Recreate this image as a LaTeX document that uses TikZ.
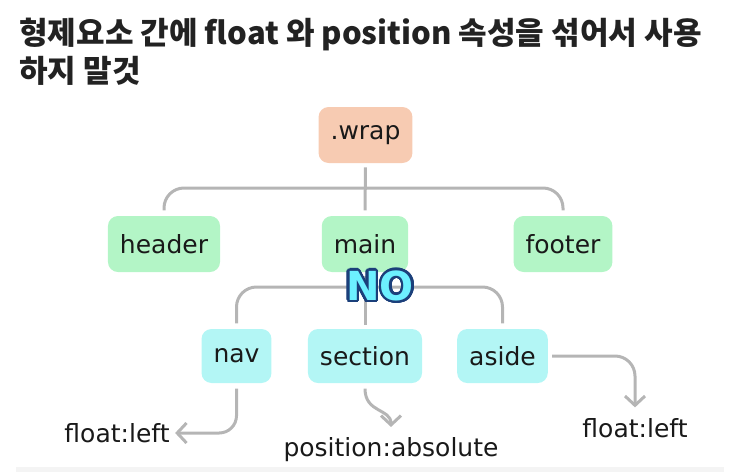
\documentclass[tikz,border=0pt]{standalone}
\usepackage{xcolor}
\usepackage{fontspec}
\setmainfont{DejaVu Sans}
\newfontfamily\kofont{Noto Sans CJK KR}
\usepackage{contour}
\usetikzlibrary{arrows.meta, positioning, calc}

\definecolor{wrapfill}{HTML}{F7CBB2}
\definecolor{kidfill}{HTML}{B3F5C6}
\definecolor{leaffill}{HTML}{B3F6F5}
\definecolor{linegray}{HTML}{B5B5B5}
\definecolor{nocyan}{HTML}{6DF0FF}
\definecolor{nodark}{HTML}{1B3F7A}
\definecolor{titlecol}{HTML}{222222}
\definecolor{bandgray}{HTML}{F4F4F4}

\begin{document}
\begin{tikzpicture}[x=0.75pt, y=-0.75pt,
    box/.style={rounded corners=7.5pt, inner xsep=9pt, minimum height=42pt,
      font=\fontsize{18.75}{22}\selectfont, text=black!90},
    link/.style={draw=linegray, line width=2.25pt, rounded corners=15pt},
    tip/.style={-{Straight Barb[length=7pt,width=15pt]}},
    lbl/.style={inner sep=1pt, font=\fontsize{18.75}{22}\selectfont, text=black!90}]

  \useasboundingbox (0,0) rectangle (744,472);

  % ---------- title ----------
  \node[anchor=north west, inner sep=0, align=left, text=titlecol,
    font=\kofont\bfseries\fontsize{23.3}{28.5}\selectfont] (title) at (19,18)
    {형제요소 간에 float 와 position 속성을 섞어서 사용\\하지 말것};

  % ---------- boxes ----------
  \node[box, fill=wrapfill] (wrap) at (365.5,135) {.wrap};
  \node[box, fill=kidfill] (header) at (164,244) {header};
  \node[box, fill=kidfill] (main) at (365,244) {main};
  \node[box, fill=kidfill] (footer) at (563,244) {footer};
  \node[box, fill=leaffill, minimum height=40.5pt] (nav) at (236.5,356) {nav};
  \node[box, fill=leaffill, minimum height=40.5pt] (section) at (365,356) {section};
  \node[box, fill=leaffill, minimum height=40.5pt] (aside) at (502.5,356) {aside};

  % bars the branches hang from
  \coordinate (bar1) at (365,188);
  \coordinate (bar2) at (365,287);

  % ---------- tree lines ----------
  \draw[link, shorten <=3pt, shorten >=4pt] (wrap) -- (main);
  \draw[link, shorten <=4pt, shorten >=4pt] (header.north) |- (bar1) -| (footer.north);
  \draw[link, shorten <=3pt, shorten >=3pt] (main) -- (section);
  \draw[link, shorten <=4pt, shorten >=4pt] (nav.north) |- (bar2) -| (aside.north);

  \node[inner sep=0, font=\bfseries\fontsize{30}{31}\selectfont] (no) at (380,287)
    {\contourlength{1.8pt}\contournumber{32}\contour{nodark}{\textcolor{nocyan}{NO}}};

  % ---------- properties ----------
  \node[lbl] (navfl) at (117,433) {float:left};
  \node[lbl] (secpos) at (391,450) {position:absolute};
  \node[lbl] (asidefl) at (635,428) {float:left};

  \draw[link, tip, rounded corners=13pt, shorten <=4pt, shorten >=3pt] (nav.south) |- (navfl.east);
  \draw[link, tip, shorten <=4pt, shorten >=7pt] (section.south)
    .. controls +(0,30) and +(0,-28) .. (secpos.north);
  \draw[link, tip, shorten <=3pt, shorten >=7pt] (aside.east) -| (asidefl.north);

  \fill[bandgray] (16,467) rectangle (724,472);

\end{tikzpicture}
\end{document}
